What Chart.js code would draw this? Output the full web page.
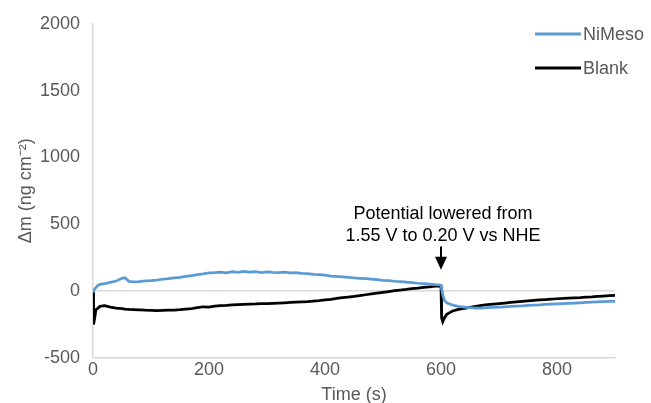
<!DOCTYPE html>
<html>
<head>
<meta charset="utf-8">
<script src="https://cdn.jsdelivr.net/npm/chart.js@4"></script>
<style>
html,body{margin:0;padding:0;background:#fff;}
#wrap{width:651px;height:403px;}
</style>
</head>
<body>
<div id="wrap"><canvas id="c" width="651" height="403"></canvas></div>
<script>
const seriesNames = ["NiMeso", "Blank"];
const timeS = [0,1,3,5,8,12,20,30,40,50,55,62,70,80,90,100,110,120,130,140,150,160,170,180,190,200,210,220,230,240,250,260,270,280,290,300,310,320,330,340,350,360,370,380,390,400,410,420,430,440,450,460,470,480,490,500,510,520,530,540,550,560,570,580,590,598,600,601,603,606,610,615,620,630,640,650,660,670,680,690,700,710,720,730,740,750,760,770,780,790,800,810,820,830,840,850,860,870,880,890,900];
const niMeso = [0,5,15,25,40,50,55,65,75,95,100,72,68,70,75,78,82,88,92,98,102,110,115,122,128,135,138,142,136,145,140,146,141,145,138,143,140,138,142,136,138,132,130,125,122,118,112,110,106,102,98,95,92,88,85,80,77,73,70,66,62,58,55,52,48,45,43,20,-30,-70,-88,-98,-106,-115,-120,-125,-128,-128,-125,-122,-120,-118,-116,-114,-112,-108,-106,-104,-100,-98,-96,-94,-92,-90,-88,-86,-84,-82,-80,-78,-78];
const blank = [0,-250,-200,-140,-130,-115,-110,-120,-128,-132,-135,-138,-140,-142,-144,-145,-146,-145,-144,-143,-140,-136,-132,-125,-118,-120,-114,-110,-108,-104,-102,-100,-98,-97,-95,-94,-92,-90,-88,-86,-84,-82,-80,-76,-72,-66,-62,-56,-50,-45,-40,-34,-28,-22,-16,-10,-4,2,7,12,18,22,27,31,36,38,35,-200,-230,-200,-175,-162,-150,-138,-130,-122,-115,-108,-102,-98,-94,-90,-86,-82,-78,-74,-70,-67,-64,-61,-58,-56,-53,-51,-49,-46,-44,-41,-38,-35,-33];
const xTicks = [0,200,400,600,800];
const yTicks = [-500,0,500,1000,1500,2000];
const noteLines = ["Potential lowered from", "1.55 V to 0.20 V vs NHE"];
const noteAt = 600;       // time (s) of the potential step
const noteTextY = [576, 409]; // data-space y of the two text lines
const arrowY = [333, 159];    // data-space arrow start / tip

const TXT = '#595959';
const FONT = '"Liberation Sans", Arial, sans-serif';
const FS = 18;

const toXY = (vals) => timeS.map((t,i)=>({x:t,y:vals[i]}));

const overlay = {
  id:'overlay',
  afterDatasetsDraw(chart){
    const ctx = chart.ctx, xs = chart.scales.x, ys = chart.scales.y;
    ctx.save();
    ctx.fillStyle = '#000';
    ctx.font = FS + 'px ' + FONT;
    ctx.textAlign = 'center'; ctx.textBaseline = 'middle';
    const px = xs.getPixelForValue(noteAt);
    noteLines.forEach((l,i)=>ctx.fillText(l, px + 2, ys.getPixelForValue(noteTextY[i])));
    const y0 = ys.getPixelForValue(arrowY[0]), y1 = ys.getPixelForValue(arrowY[1]);
    ctx.strokeStyle = '#000'; ctx.lineWidth = 2;
    ctx.beginPath(); ctx.moveTo(px, y0); ctx.lineTo(px, y1 - 10); ctx.stroke();
    ctx.beginPath(); ctx.moveTo(px - 6, y1 - 13); ctx.lineTo(px + 6, y1 - 13); ctx.lineTo(px, y1); ctx.closePath(); ctx.fill();
    ctx.textAlign = 'left';
    chart.data.datasets.forEach((ds,i)=>{
      const ly = 34 + i*34;
      ctx.strokeStyle = ds.borderColor; ctx.lineWidth = 3;
      ctx.beginPath(); ctx.moveTo(535, ly); ctx.lineTo(581, ly); ctx.stroke();
      ctx.fillStyle = TXT;
      ctx.fillText(ds.label, 583, ly + 1);
    });
    ctx.restore();
  }
};

new Chart(document.getElementById('c'), {
  type:'line',
  data:{
    datasets:[
      {label:seriesNames[0], data:toXY(niMeso), borderColor:'#5B9BD5', borderWidth:2.75, pointRadius:0, tension:0, fill:false},
      {label:seriesNames[1], data:toXY(blank), borderColor:'#000000', borderWidth:2.75, pointRadius:0, tension:0, fill:false}
    ]
  },
  options:{
    responsive:false, animation:false,
    layout:{padding:{top:23, right:36, left:0, bottom:0}},
    plugins:{legend:{display:false}, tooltip:{enabled:false}},
    scales:{
      x:{type:'linear', min:0, max:900,
        afterBuildTicks(s){ s.ticks = xTicks.map(v=>({value:v})); },
        grid:{display:false, drawTicks:false},
        border:{display:true, color:'#D9D9D9', width:1},
        ticks:{color:TXT, font:{family:FONT, size:FS}, padding:1, maxRotation:0, callback:(v)=>String(v)},
        title:{display:true, text:'Time (s)', color:TXT, font:{family:FONT, size:FS}, padding:{top:3, bottom:-3}}
      },
      y:{type:'linear', min:-500, max:2000,
        afterBuildTicks(s){ s.ticks = yTicks.map(v=>({value:v})); },
        afterFit(s){ s.width = 93; },
        grid:{drawTicks:false, lineWidth:1.5, color:(c)=> (c.tick && (c.tick.value===0 || c.tick.value===-500)) ? '#D9D9D9' : 'rgba(0,0,0,0)'},
        border:{display:true, color:'#D9D9D9', width:1.5},
        ticks:{color:TXT, font:{family:FONT, size:FS}, padding:13, callback:(v)=>String(v)},
        title:{display:true, text:'Δm (ng cm⁻²)', color:TXT, font:{family:FONT, size:FS}, padding:{top:15, bottom:0}}
      }
    }
  },
  plugins:[overlay]
});
</script>
</body>
</html>
